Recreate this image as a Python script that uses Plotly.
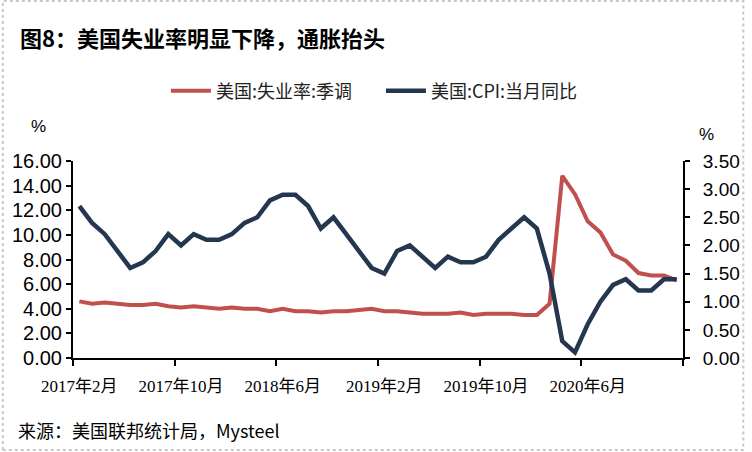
import plotly.graph_objects as go

# ---- data ----
months = []
for y in range(2017, 2022):
    for m in range(1, 13):
        if (y == 2017 and m < 2) or (y == 2021 and m > 1):
            continue
        months.append(f"{y}年{m}月")

unemployment = [4.6, 4.4, 4.5, 4.4, 4.3, 4.3, 4.4, 4.2, 4.1, 4.2, 4.1, 4.0,
                4.1, 4.0, 4.0, 3.8, 4.0, 3.8, 3.8, 3.7, 3.8, 3.8, 3.9, 4.0,
                3.8, 3.8, 3.7, 3.6, 3.6, 3.6, 3.7, 3.5, 3.6, 3.6, 3.6, 3.5,
                3.5, 4.4, 14.8, 13.3, 11.1, 10.2, 8.4, 7.9, 6.9, 6.7, 6.7, 6.3]
cpi = [2.7, 2.4, 2.2, 1.9, 1.6, 1.7, 1.9, 2.2, 2.0, 2.2, 2.1, 2.1,
       2.2, 2.4, 2.5, 2.8, 2.9, 2.9, 2.7, 2.3, 2.5, 2.2, 1.9, 1.6,
       1.5, 1.9, 2.0, 1.8, 1.6, 1.8, 1.7, 1.7, 1.8, 2.1, 2.3, 2.5,
       2.3, 1.5, 0.3, 0.1, 0.6, 1.0, 1.3, 1.4, 1.2, 1.2, 1.4, 1.4]
name_u = "美国:失业率:季调"
name_c = "美国:CPI:当月同比"
title = "图8：美国失业率明显下降，通胀抬头"
source = "来源：美国联邦统计局，Mysteel"

idx = list(range(len(months)))
label_step = 8

W, H = 752, 452
L, R, T, B = 72, 689, 161, 358
pw, ph = R - L, B - T
def px_x(x): return (x - L) / pw
def px_y(y): return (B - y) / ph

RED = "#C0504D"
NAVY = "#243650"
CJK = "Noto Sans CJK SC"

fig = go.Figure()
fig.add_trace(go.Scatter(x=idx, y=unemployment, name=name_u, mode="lines",
                         line=dict(color=RED, width=4), yaxis="y"))
fig.add_trace(go.Scatter(x=idx, y=cpi, name=name_c, mode="lines",
                         line=dict(color=NAVY, width=4.5), yaxis="y2"))

fig.update_layout(
    width=W, height=H,
    margin=dict(l=L, r=W - R, t=T, b=H - B),
    paper_bgcolor="white", plot_bgcolor="white",
    showlegend=True,
    legend=dict(orientation="h", x=px_x(166), xanchor="left",
                y=px_y(91), yanchor="middle",
                font=dict(family=CJK, size=18, color="#222"),
                entrywidth=160, entrywidthmode="pixels",
                bgcolor="rgba(0,0,0,0)", itemwidth=40),
    xaxis=dict(range=[-0.5, len(months) - 0.5], showgrid=False, zeroline=False,
               showline=True, linecolor="black", linewidth=2,
               tickmode="array", tickvals=idx[::label_step],
               ticktext=months[::label_step], ticks="",
               ticklabelstandoff=12,
               tickfont=dict(family="Liberation Serif, " + CJK, size=17, color="black"),
               minor=dict(tickmode="linear", tick0=-0.5, dtick=label_step,
                          ticks="outside", ticklen=6, tickwidth=2,
                          tickcolor="black", showgrid=False)),
    yaxis=dict(range=[0, 16], dtick=2, tickformat=".2f", showgrid=False,
               zeroline=False, showline=True, linecolor="black", linewidth=2,
               ticks="outside", ticklen=5, tickwidth=2, tickcolor="black",
               tickfont=dict(family="Liberation Sans, Arial", size=20, color="black")),
    yaxis2=dict(range=[0, 3.5], dtick=0.5, tickformat=".2f", showgrid=False,
                zeroline=False, showline=True, linecolor="black", linewidth=2,
                ticks="outside", ticklen=5, tickwidth=2, tickcolor="black",
                overlaying="y", side="right",
                tickfont=dict(family="Liberation Sans, Arial", size=19, color="black"),
                ticklabelstandoff=9),
)

ann = [
    dict(text=title, x=px_x(16), y=px_y(37), xanchor="left", yanchor="middle",
         font=dict(family=CJK, size=22, color="black", weight="bold")),
    dict(text=source, x=px_x(14), y=px_y(430), xanchor="left", yanchor="middle",
         font=dict(family=CJK, size=18, color="black")),
    dict(text="%", x=px_x(37), y=px_y(126), xanchor="center", yanchor="middle",
         font=dict(family="Liberation Sans, Arial", size=17, color="black")),
    dict(text="%", x=px_x(713), y=px_y(134), xanchor="center", yanchor="middle",
         font=dict(family="Liberation Sans, Arial", size=17, color="black")),
]
for a in ann:
    fig.add_annotation(xref="paper", yref="paper", showarrow=False, **a)

fig.add_shape(type="rect", xref="paper", yref="paper",
              x0=px_x(1), x1=px_x(750), y0=px_y(450), y1=px_y(1),
              line=dict(color="#c8c8c8", width=2, dash="dot"),
              fillcolor="rgba(0,0,0,0)", layer="above")

fig.write_html("out.html", config={"displayModeBar": False},
               post_script="document.body.style.margin='0';document.body.style.overflow='hidden';")
